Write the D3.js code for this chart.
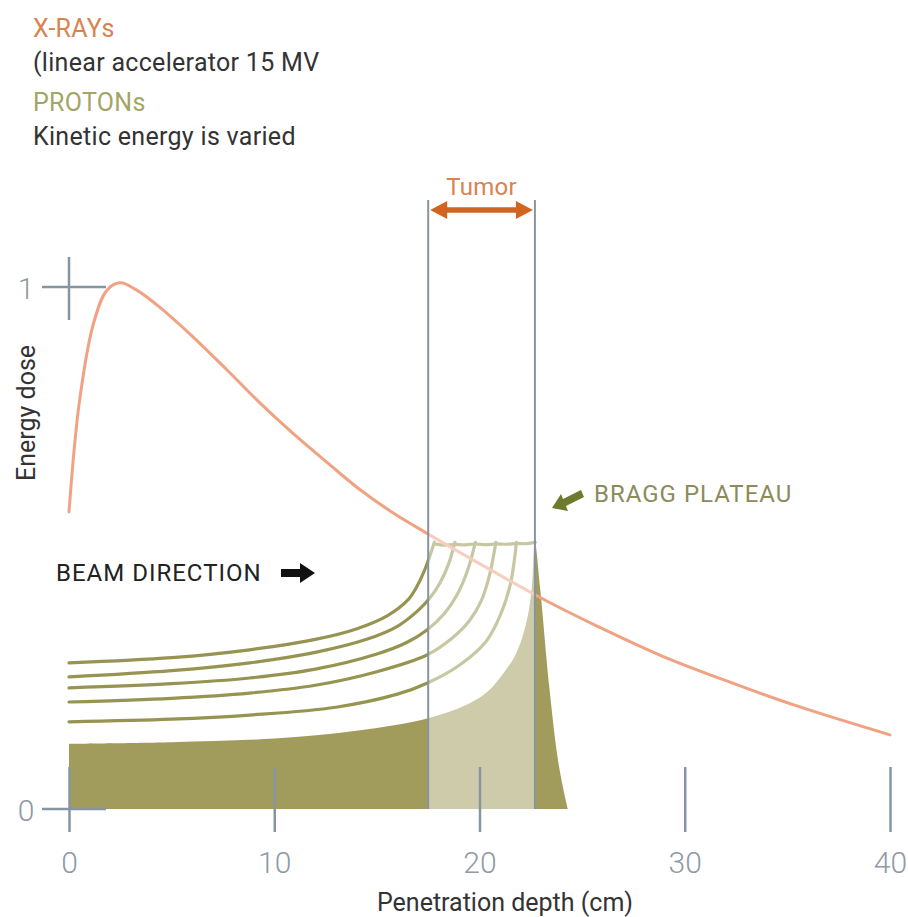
<!DOCTYPE html>
<html>
<head>
<meta charset="utf-8">
<script src="https://cdn.jsdelivr.net/npm/d3@7"></script>
<style>
  html, body { margin: 0; padding: 0; background: #fff; }
  svg { display: block; font-family: Roboto, "DejaVu Sans", sans-serif; }
</style>
</head>
<body>
<svg id="chart" width="908" height="917"></svg>
<script>
// ---------- data ----------
const xTickValues = [0, 10, 20, 30, 40];
const yTickValues = [0, 1];
const tumorRange = [17.5, 22.7];

// X-ray depth dose (linear accelerator 15 MV)
const xrayDepth = [0, 0.5, 1.2, 1.85, 2.5, 3.3, 4.4, 6.0, 7.7, 9.3, 10.9, 12.6, 14.2, 15.8, 17.4, 20.0, 23.3, 25.7, 28.9, 32.2, 35.5, 40];
const xrayDose  = [0.569, 0.778, 0.931, 0.994, 1.008, 0.994, 0.962, 0.906, 0.841, 0.778, 0.72, 0.663, 0.611, 0.567, 0.529, 0.47, 0.398, 0.351, 0.293, 0.243, 0.197, 0.142];

// Proton Bragg curves (kinetic energy varied), shallowest first
const proton1Depth = [0, 5, 8.8, 12, 14, 15.5, 16.5, 17.0, 17.4, 17.8];
const proton1Dose  = [0.28, 0.29, 0.305, 0.325, 0.345, 0.37, 0.40, 0.43, 0.465, 0.511];
const proton2Depth = [0, 5, 8.8, 12, 14.5, 16, 17, 17.6, 18.1, 18.5, 18.8];
const proton2Dose  = [0.253, 0.265, 0.28, 0.30, 0.325, 0.35, 0.38, 0.405, 0.435, 0.47, 0.511];
const proton3Depth = [0, 5, 8.8, 12, 15, 16.5, 17.44, 18.3, 18.9, 19.4, 19.8];
const proton3Dose  = [0.232, 0.24, 0.251, 0.268, 0.297, 0.32, 0.343, 0.375, 0.41, 0.455, 0.511];
const proton4Depth = [0, 5, 8.8, 12, 15, 17.44, 18.6, 19.5, 20.1, 20.5, 20.8];
const proton4Dose  = [0.205, 0.212, 0.222, 0.237, 0.263, 0.295, 0.325, 0.36, 0.40, 0.45, 0.511];
const proton5Depth = [0, 5, 8.8, 13, 16, 17.44, 19, 20.3, 21.0, 21.5, 21.8];
const proton5Dose  = [0.167, 0.172, 0.18, 0.195, 0.22, 0.241, 0.275, 0.32, 0.37, 0.43, 0.511];
// deepest curve, drawn filled
const proton6Depth = [0, 5, 10, 14, 17.5, 19.4, 20.4, 21.2, 21.8, 22.3, 22.55, 22.7, 22.95, 23.4, 23.8, 24.1, 24.3];
const proton6Dose  = [0.125, 0.128, 0.135, 0.15, 0.174, 0.2, 0.225, 0.262, 0.299, 0.36, 0.425, 0.511, 0.425, 0.234, 0.10, 0.035, 0.0];
// Bragg plateau (line joining the peaks)
const plateauDepth = [17.8, 18.3, 18.8, 19.3, 19.8, 20.3, 20.8, 21.3, 21.8, 22.25, 22.7];
const plateauDose  = [0.508, 0.504, 0.508, 0.505, 0.509, 0.505, 0.509, 0.506, 0.51, 0.507, 0.511];

// ---------- setup ----------
const svg = d3.select("#chart");
const x = d3.scaleLinear().domain([0, 40]).range([69, 890]);
const y = d3.scaleLinear().domain([0, 1]).range([809, 287]);

const zip = (a, b) => a.map((d, i) => [d, b[i]]);
const cr = d3.curveCatmullRom.alpha(0.5);
const line = d3.line().x(d => x(d[0])).y(d => y(d[1])).curve(cr);
const smooth = d3.line().x(d => x(d[0])).y(d => y(d[1])).curve(d3.curveBasis);
const area = d3.area().x(d => x(d[0])).y0(y(0)).y1(d => y(d[1])).curve(cr);

const OLIVE = "#a29c5c";
const LINE_OLIVE = "#969450";
const XRAY = "#f0a282";
const AXIS = "#8794a1";

// filled Bragg curve
svg.append("path").datum(zip(proton6Depth, proton6Dose))
  .attr("d", area).attr("fill", OLIVE);

// other Bragg curves
[[proton1Depth, proton1Dose], [proton2Depth, proton2Dose], [proton3Depth, proton3Dose],
 [proton4Depth, proton4Dose], [proton5Depth, proton5Dose]]
  .forEach(([d, v]) => {
    svg.append("path").datum(zip(d, v))
      .attr("d", line).attr("fill", "none")
      .attr("stroke", LINE_OLIVE).attr("stroke-width", 3.2)
      .attr("stroke-linecap", "round");
  });
svg.append("path").datum(zip(plateauDepth, plateauDose))
  .attr("d", smooth).attr("fill", "none")
  .attr("stroke", LINE_OLIVE).attr("stroke-width", 3.2).attr("stroke-linecap", "round");

// x-ray curve
svg.append("path").datum(zip(xrayDepth, xrayDose))
  .attr("d", line).attr("fill", "none")
  .attr("stroke", XRAY).attr("stroke-width", 3).attr("stroke-linecap", "round");

// tumor region white veil
svg.append("rect")
  .attr("x", x(tumorRange[0])).attr("width", x(tumorRange[1]) - x(tumorRange[0]))
  .attr("y", 200).attr("height", y(0) - 200)
  .attr("fill", "#fff").attr("opacity", 0.48);

// tumor boundary lines
svg.selectAll(".tumorline").data(tumorRange).enter().append("line")
  .attr("x1", d => x(d)).attr("x2", d => x(d))
  .attr("y1", 200).attr("y2", y(0))
  .attr("stroke", AXIS).attr("stroke-width", 2);

// tumor double arrow
const TUMOR_ORANGE = "#d2641f";
const ay = 210;
const ax0 = x(tumorRange[0]) + 2, ax1 = x(tumorRange[1]) - 2;
svg.append("line").attr("x1", ax0 + 12).attr("x2", ax1 - 12).attr("y1", ay).attr("y2", ay)
  .attr("stroke", TUMOR_ORANGE).attr("stroke-width", 5.5);
svg.append("path")
  .attr("d", `M${ax0},${ay} L${ax0 + 17},${ay - 9} L${ax0 + 17},${ay + 9} Z`)
  .attr("fill", TUMOR_ORANGE);
svg.append("path")
  .attr("d", `M${ax1},${ay} L${ax1 - 17},${ay - 9} L${ax1 - 17},${ay + 9} Z`)
  .attr("fill", TUMOR_ORANGE);
svg.append("text").attr("x", (x(tumorRange[0]) + x(tumorRange[1])) / 2).attr("y", 195)
  .attr("text-anchor", "middle").attr("font-size", 24).attr("letter-spacing", 0.3)
  .attr("fill", "#d9834f").text("Tumor");

// x axis ticks and labels
const xAxis = d3.axisBottom(x).tickValues(xTickValues).tickSize(65).tickPadding(20)
  .tickFormat(d3.format("d"));
const gx = svg.append("g").attr("transform", `translate(0,767)`).call(xAxis);
gx.select(".domain").remove();
gx.selectAll(".tick line").attr("stroke", AXIS).attr("stroke-width", 2.5);
gx.selectAll(".tick text").attr("fill", "#8e9aa5").attr("font-size", 30)
  .attr("font-weight", 300).attr("font-family", "Roboto, sans-serif");

// y axis cross ticks
svg.selectAll(".ytickh").data(yTickValues).enter().append("line")
  .attr("x1", 42).attr("x2", 106)
  .attr("y1", d => y(d)).attr("y2", d => y(d))
  .attr("stroke", AXIS).attr("stroke-width", 2.5);
svg.append("line").attr("x1", x(0)).attr("x2", x(0))
  .attr("y1", y(1) - 30).attr("y2", y(1) + 33)
  .attr("stroke", AXIS).attr("stroke-width", 2.5);
svg.selectAll(".yticklabel").data(yTickValues).enter().append("text")
  .attr("x", 26).attr("y", d => y(d) + 12)
  .attr("text-anchor", "middle").attr("font-size", 30).attr("font-weight", 300)
  .attr("fill", "#8e9aa5").text(d => d);

// axis titles
svg.append("text").attr("transform", "translate(35,413) rotate(-90)")
  .attr("text-anchor", "middle").attr("font-size", 25).attr("fill", "#333")
  .text("Energy dose");
svg.append("text").attr("x", 505).attr("y", 911)
  .attr("text-anchor", "middle").attr("font-size", 25).attr("fill", "#333")
  .text("Penetration depth (cm)");

// legend texts
const legend = [
  ["X-RAYs", 37, "#d9834f"],
  ["(linear accelerator 15 MV", 71, "#333"],
  ["PROTONs", 111, "#a3a565"],
  ["Kinetic energy is varied", 145, "#333"]
];
svg.selectAll(".legend").data(legend).enter().append("text")
  .attr("x", 33).attr("y", d => d[1]).attr("font-size", 25).attr("letter-spacing", 0.3)
  .attr("fill", d => d[2]).text(d => d[0]);

// BEAM DIRECTION annotation
svg.append("text").attr("x", 56).attr("y", 581).attr("font-size", 24).attr("letter-spacing", 1)
  .attr("fill", "#222").text("BEAM DIRECTION");
svg.append("path")
  .attr("d", "M281,569 L300,569 L300,563 L315,573 L300,583 L300,577 L281,577 Z")
  .attr("fill", "#111");

// BRAGG PLATEAU annotation
svg.append("text").attr("x", 594).attr("y", 502).attr("font-size", 24).attr("letter-spacing", 1)
  .attr("fill", "#8b8b5c").text("BRAGG PLATEAU");
svg.append("path")
  .attr("d", "M552,508 L561,494 L563,499 L581,490 L584,497 L566,506 L568,511 Z")
  .attr("fill", "#6e7a2c");
</script>
</body>
</html>
